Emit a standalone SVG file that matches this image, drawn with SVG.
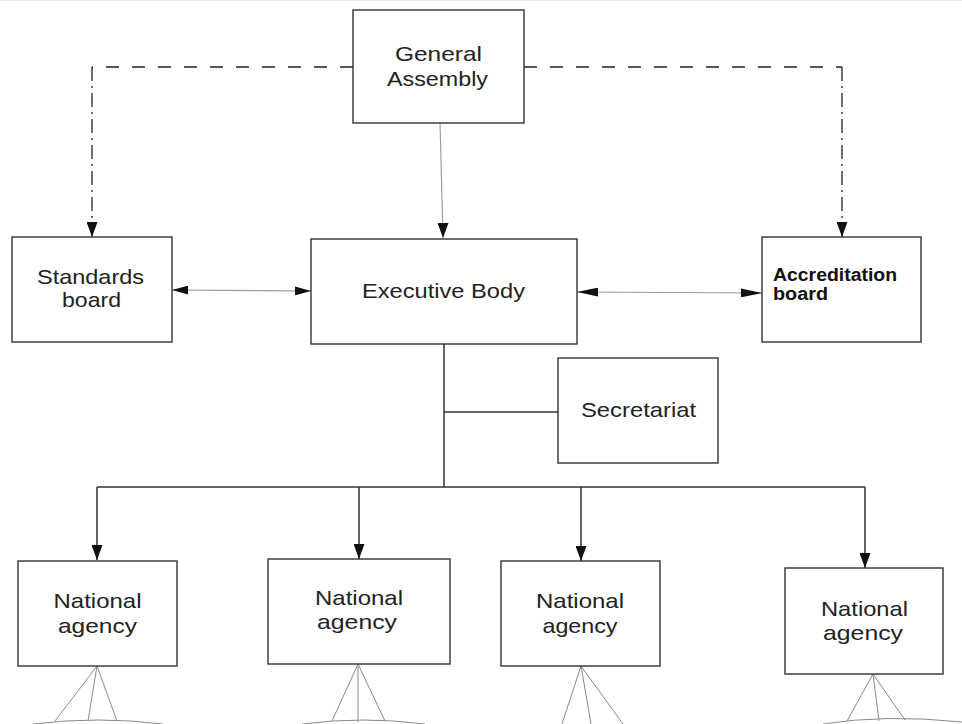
<svg xmlns="http://www.w3.org/2000/svg" width="962" height="724" viewBox="0 0 962 724">
  <style>
    .box { fill: #ffffff; stroke: #333333; stroke-width: 1.4; }
    .lbl { font-family: "Liberation Sans", Arial, sans-serif; font-size: 21px; fill: #222222; text-anchor: middle; }
    .lblb { font-family: "Liberation Sans", Arial, sans-serif; font-size: 18px; font-weight: bold; fill: #111111; }
    .dark { fill: none; stroke: #333333; stroke-width: 1.5; }
    .gray { fill: none; stroke: #999999; stroke-width: 1.1; }
    .dash { fill: none; stroke: #222222; stroke-width: 1.3; stroke-dasharray: 13 13; }
    .dashv { fill: none; stroke: #222222; stroke-width: 1.3; stroke-dasharray: 14 5 2 5; }
    .tree { fill: none; stroke: #8a8a8a; stroke-width: 1; }
  </style>
  <defs>
    <marker id="arr" viewBox="0 0 11 15" markerWidth="11" markerHeight="15" refX="5.5" refY="15" orient="0" markerUnits="userSpaceOnUse">
      <path d="M0,0 L11,0 L5.5,15 Z" fill="#111111"/>
    </marker>
    <marker id="harr" viewBox="0 0 16 9" markerWidth="16" markerHeight="9" refX="16" refY="4.5" orient="auto-start-reverse" markerUnits="userSpaceOnUse">
      <path d="M0,0 L16,4.5 L0,9 Z" fill="#111111"/>
    </marker>
    <marker id="harrL" viewBox="0 0 21 9" markerWidth="21" markerHeight="9" refX="21" refY="4.5" orient="auto-start-reverse" markerUnits="userSpaceOnUse">
      <path d="M0,0 L21,4.5 L0,9 Z" fill="#111111"/>
    </marker>
  </defs>
  <rect x="0" y="0" width="962" height="724" fill="#ffffff"/>
  <line x1="0" y1="0.5" x2="962" y2="0.5" stroke="#e6e6e6" stroke-width="1"/>

  <g id="connectors">
    <!-- General Assembly to Executive Body -->
    <path class="gray" d="M440,123 L443,238" marker-end="url(#arr)"/>
    <!-- dashed to standards board -->
    <path class="dash" d="M353,67 L92,67"/>
    <path class="dashv" d="M92,67 L92,237" marker-end="url(#arr)"/>
    <!-- dashed to accreditation board -->
    <path class="dash" d="M524,67 L842,67"/>
    <path class="dashv" d="M842,67 L842,237" marker-end="url(#arr)"/>
    <!-- Standards <-> Executive -->
    <path class="gray" d="M172,290 L311,291" marker-start="url(#harr)" marker-end="url(#harr)"/>
    <!-- Executive <-> Accreditation -->
    <path class="gray" d="M577,292 L762,293" marker-start="url(#harrL)" marker-end="url(#harrL)"/>
    <!-- Executive down -->
    <path class="dark" d="M444,344 L444,487"/>
    <path class="dark" d="M444,412 L558,412"/>
    <path class="dark" d="M97,487 L865,487"/>
    <path class="dark" d="M97,487 L97,560" marker-end="url(#arr)"/>
    <path class="dark" d="M359,487 L359,559" marker-end="url(#arr)"/>
    <path class="dark" d="M581,487 L581,561" marker-end="url(#arr)"/>
    <path class="dark" d="M865,487 L865,568" marker-end="url(#arr)"/>
    <!-- trees below agencies -->
    <path class="tree" d="M97,666 L55,721 M97,666 L88,721 M97,666 L117,721"/>
    <path class="tree" d="M33,724 Q98,716 163,724"/>
    <path class="tree" d="M358,664 L332,721 M358,664 L358,722 M358,664 L385,721"/>
    <path class="tree" d="M302,724 Q363,716 425,724"/>
    <path class="tree" d="M581,666 L562,724 M581,666 L591,724 M581,666 L623,724"/>
    <path class="tree" d="M873,674 L847,721 M873,674 L879,721 M873,674 L905,720"/>
    <path class="tree" d="M823,724 Q885,714 962,722"/>
  </g>

  <g id="general-assembly">
    <rect class="box" x="353" y="10" width="171" height="113"/>
    <text class="lbl" x="438.5" y="61" textLength="87" lengthAdjust="spacingAndGlyphs">General</text>
    <text class="lbl" x="437.5" y="85.5" textLength="101" lengthAdjust="spacingAndGlyphs">Assembly</text>
  </g>

  <g id="standards-board">
    <rect class="box" x="12" y="237" width="160" height="105"/>
    <text class="lbl" x="90.5" y="283.5" textLength="107" lengthAdjust="spacingAndGlyphs">Standards</text>
    <text class="lbl" x="91.5" y="307" textLength="59" lengthAdjust="spacingAndGlyphs">board</text>
  </g>

  <g id="executive-body">
    <rect class="box" x="311" y="239" width="266" height="105"/>
    <text class="lbl" x="443.5" y="297.5" textLength="163" lengthAdjust="spacingAndGlyphs">Executive Body</text>
  </g>

  <g id="accreditation-board">
    <rect class="box" x="762" y="237" width="159" height="105"/>
    <text class="lblb" x="773" y="281" textLength="124" lengthAdjust="spacingAndGlyphs">Accreditation</text>
    <text class="lblb" x="773" y="300" textLength="55" lengthAdjust="spacingAndGlyphs">board</text>
  </g>

  <g id="secretariat">
    <rect class="box" x="558" y="358" width="160" height="105"/>
    <text class="lbl" x="638.5" y="417" textLength="115" lengthAdjust="spacingAndGlyphs">Secretariat</text>
  </g>

  <g id="national-agency-1">
    <rect class="box" x="18" y="561" width="159" height="105"/>
    <text class="lbl" x="97.5" y="608" textLength="88" lengthAdjust="spacingAndGlyphs">National</text>
    <text class="lbl" x="97.5" y="633" textLength="79" lengthAdjust="spacingAndGlyphs">agency</text>
  </g>

  <g id="national-agency-2">
    <rect class="box" x="268" y="559" width="182" height="105"/>
    <text class="lbl" x="359" y="605" textLength="88" lengthAdjust="spacingAndGlyphs">National</text>
    <text class="lbl" x="357" y="629" textLength="80" lengthAdjust="spacingAndGlyphs">agency</text>
  </g>

  <g id="national-agency-3">
    <rect class="box" x="501" y="561" width="159" height="105"/>
    <text class="lbl" x="580" y="608" textLength="88" lengthAdjust="spacingAndGlyphs">National</text>
    <text class="lbl" x="580" y="633" textLength="75" lengthAdjust="spacingAndGlyphs">agency</text>
  </g>

  <g id="national-agency-4">
    <rect class="box" x="785" y="568" width="158" height="106"/>
    <text class="lbl" x="864.5" y="616" textLength="87" lengthAdjust="spacingAndGlyphs">National</text>
    <text class="lbl" x="863" y="640" textLength="80" lengthAdjust="spacingAndGlyphs">agency</text>
  </g>
</svg>
